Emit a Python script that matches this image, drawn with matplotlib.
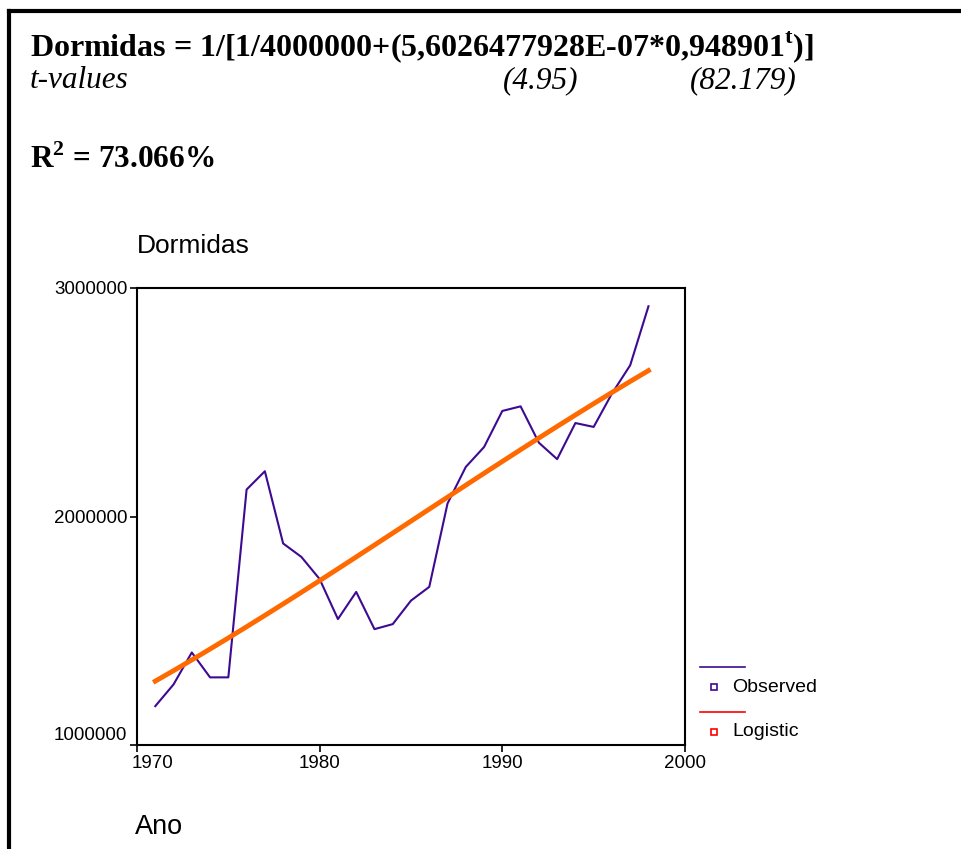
import matplotlib
matplotlib.use("Agg")
import matplotlib.pyplot as plt
import matplotlib.transforms as mtransforms
from matplotlib.lines import Line2D

# Data
years = list(range(1971, 1999))
observed = [1170000, 1265000, 1405000, 1296000, 1296000, 2118000, 2198000,
            1882000, 1823000, 1726000, 1551000, 1670000, 1507000, 1529000,
            1632000, 1692000, 2057000, 2217000, 2304000, 2462000, 2482000,
            2323000, 2251000, 2409000, 2392000, 2538000, 2662000, 2920000]
logistic = [1279400, 1325400, 1372300, 1420000, 1468400, 1517500, 1567200,
            1617400, 1668200, 1719400, 1771000, 1822900, 1875100, 1927400,
            1979800, 2032300, 2084600, 2136900, 2189100, 2240900, 2292400,
            2343500, 2394200, 2444300, 2493900, 2542800, 2591100, 2638500]
xticks = [1970, 1980, 1990, 2000]
yticks = [1000000, 2000000, 3000000]

plt.rcParams['mathtext.fontset'] = 'custom'
plt.rcParams['mathtext.rm'] = 'Liberation Serif'
plt.rcParams['mathtext.bf'] = 'Liberation Serif:bold'

W, H = 961, 849
fig = plt.figure(figsize=(W / 100, H / 100), dpi=100)

def fx(px):
    return px / W

def fy(py):
    return 1 - py / H

# frame lines on top and left edge
fig.add_artist(Line2D([fx(9), fx(W)], [fy(11), fy(11)], color='black', lw=3, transform=fig.transFigure))
fig.add_artist(Line2D([fx(9), fx(9)], [fy(11), fy(H)], color='black', lw=3, transform=fig.transFigure))

# equation text
serif = 'Liberation Serif'
fig.text(fx(30), fy(56), r"Dormidas = 1/[1/4000000+(5,6026477928E-07*0,948901$^\mathbf{t}$)]",
         fontsize=23, fontweight='bold', family=serif, va='baseline')
fig.text(fx(30), fy(88), "t-values", fontsize=22.5, style='italic', family=serif, va='baseline')
fig.text(fx(503), fy(88), "(4.95)", fontsize=22.5, style='italic', family=serif, va='baseline')
fig.text(fx(690), fy(88), "(82.179)", fontsize=22.5, style='italic', family=serif, va='baseline')
fig.text(fx(30), fy(168), r"R$^\mathbf{2}$ = 73.066%", fontsize=22.5, fontweight='bold',
         family=serif, va='baseline')

sans = 'Liberation Sans'
fig.text(fx(137), fy(253), "Dormidas", fontsize=19, family=sans, va='baseline')
fig.text(fx(135), fy(834), "Ano", fontsize=19.5, family=sans, va='baseline')

ax = fig.add_axes([fx(137), fy(745), fx(685) - fx(137), fy(288) - fy(745)])
ax.plot(years, observed, color='#3d0a91', lw=1.5)
ax.plot(years, logistic, color='#ff6a00', lw=3.5)
ax.set_xlim(1970, 2000)
ax.set_ylim(1000000, 3000000)
ax.set_xticks(xticks)
ax.set_yticks(yticks)
ax.set_yticklabels([str(v) for v in yticks])
for s in ax.spines.values():
    s.set_linewidth(1.5)
ax.tick_params(direction='out', length=5, width=1.2, labelsize=13.5, pad=2)
for lab in ax.get_xticklabels() + ax.get_yticklabels():
    lab.set_family(sans)
# first year label sits to the right of its tick, lowest y label sits higher
first = ax.get_xticklabels()[0]
first.set_horizontalalignment('left')
first.set_transform(first.get_transform() + mtransforms.ScaledTranslation(-5 / 100, 0, fig.dpi_scale_trans))
low = ax.get_yticklabels()[0]
low.set_transform(low.get_transform() + mtransforms.ScaledTranslation(0, 12 / 100, fig.dpi_scale_trans))

# legend drawn by hand
leg = [("Observed", '#3d0a91', 667), ("Logistic", '#ff0000', 712)]
for name, col, ly in leg:
    fig.add_artist(Line2D([fx(700), fx(745)], [fy(ly), fy(ly)], color=col, lw=1.2,
                          transform=fig.transFigure))
    fig.add_artist(Line2D([fx(714)], [fy(ly + 20)], color=col, marker='s', ms=5,
                          mfc='none', mew=1.2, transform=fig.transFigure))
    fig.text(fx(732), fy(ly + 20), name, fontsize=14, family=sans, va='center')

fig.savefig("out.png", dpi=100)
